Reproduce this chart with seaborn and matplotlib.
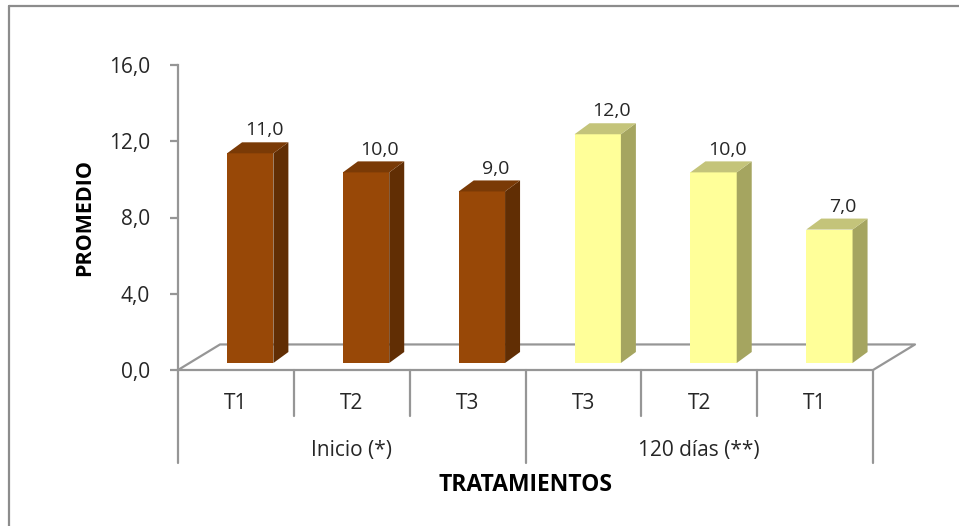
import matplotlib
matplotlib.use("Agg")
import matplotlib.pyplot as plt
import pandas as pd
import seaborn as sns
from matplotlib.patches import Polygon
from matplotlib.lines import Line2D
from matplotlib.ticker import FuncFormatter

# Datos
grupos = ["Inicio (*)", "Inicio (*)", "Inicio (*)",
          "120 días (**)", "120 días (**)", "120 días (**)"]
tratamientos = ["T1", "T2", "T3", "T3", "T2", "T1"]
promedios = [11.0, 10.0, 9.0, 12.0, 10.0, 7.0]
marcas_y = [0, 4, 8, 12, 16]
orden_grupos = ["Inicio (*)", "120 días (**)"]

color_frente = {"Inicio (*)": "#984807", "120 días (**)": "#FFFF99"}
color_lado = {"Inicio (*)": "#612E04", "120 días (**)": "#A5A560"}
color_tope = {"Inicio (*)": "#7A3A06", "120 días (**)": "#C4C47A"}
gris = "#969696"
texto = "#262626"

df = pd.DataFrame({"grupo": grupos, "tratamiento": tratamientos, "promedio": promedios})
df["clave"] = [f"{g}|{t}|{i}" for i, (g, t) in enumerate(zip(grupos, tratamientos))]

sns.set_theme(style="white")
plt.rcParams["font.family"] = ["Open Sans", "DejaVu Sans"]

fig = plt.figure(figsize=(9.59, 5.26), dpi=100)
fig.patch.set_facecolor("white")
ax = fig.add_axes([178 / 959, (526 - 370) / 526, 695 / 959, 305 / 526])

sns.barplot(data=df, x="clave", y="promedio", hue="grupo", order=list(df["clave"]),
            hue_order=orden_grupos, palette=color_frente, dodge=False, width=0.4,
            saturation=1, errorbar=None, legend=False, linewidth=0, ax=ax)

ax.set_xlim(-0.5, 5.5)
ax.set_ylim(0, 16)

# perspectiva: desplazamiento de la cara frontal y profundidad de cada barra
fx, fy = 0.1235, 0.367
dx, dy = 0.1295, 0.577
# profundidad del piso
pdx, pdy = 0.3626, 1.34

# piso (solo contorno)
piso_x = [-0.5, 5.5, 5.5 + pdx, -0.5 + pdx, -0.5]
piso_y = [0, 0, pdy, pdy, 0]
ax.plot(piso_x, piso_y, color=gris, lw=1.6, clip_on=False, zorder=1,
        solid_capstyle="butt")

for p in list(ax.patches):
    h = p.get_height()
    if not h or h != h:
        continue
    idx = int(round(p.get_x() + p.get_width() / 2))
    g = df["grupo"].iloc[idx]
    x0 = p.get_x() + fx
    w = p.get_width()
    p.set_x(x0)
    p.set_y(fy)
    p.set_zorder(3)
    y1 = fy + h
    lado = Polygon([(x0 + w, fy), (x0 + w + dx, fy + dy), (x0 + w + dx, y1 + dy), (x0 + w, y1)],
                   closed=True, facecolor=color_lado[g], edgecolor="none", zorder=3,
                   clip_on=False)
    tope = Polygon([(x0, y1), (x0 + w, y1), (x0 + w + dx, y1 + dy), (x0 + dx, y1 + dy)],
                   closed=True, facecolor=color_tope[g], edgecolor="none", zorder=3,
                   clip_on=False)
    ax.add_patch(lado)
    ax.add_patch(tope)
    ax.text(x0 + w / 2 + 0.12, y1 + dy + 0.36, f"{h:.1f}".replace(".", ","),
            ha="center", va="baseline", fontsize=14, color=texto, zorder=4)

# ejes
for s in ["top", "right", "bottom"]:
    ax.spines[s].set_visible(False)
ax.spines["left"].set_color(gris)
ax.spines["left"].set_linewidth(1.6)
ax.set_yticks(marcas_y)
ax.yaxis.set_major_formatter(FuncFormatter(lambda v, _: f"{v:.1f}".replace(".", ",")))
ax.tick_params(axis="y", direction="out", length=6, width=1.6, color=gris,
               labelsize=15, labelcolor=texto, pad=14, left=True)
ax.set_xticks([])
ax.set_xlabel("")
ax.set_ylabel("PROMEDIO", fontsize=15.5, fontweight="bold", color="black")
ax.yaxis.set_label_coords(-0.119, 0.5)

# divisiones del eje de categorías
y_corto, y_largo = -2.42, -4.88
for xb in [0.5, 1.5, 3.5, 4.5]:
    ax.plot([xb, xb], [0, y_corto], color=gris, lw=1.6, clip_on=False, zorder=1)
for xb in [-0.5, 2.5, 5.5]:
    ax.plot([xb, xb], [0, y_largo], color=gris, lw=1.6, clip_on=False, zorder=1)

for i, t in enumerate(tratamientos):
    ax.text(i, -1.75, t, ha="center", va="center", fontsize=15, color=texto, clip_on=False)
for j, g in enumerate(orden_grupos):
    ax.text(1 + 3 * j, -4.2, g, ha="center", va="center", fontsize=15, color=texto,
            clip_on=False)
ax.text(2.5, -6.05, "TRATAMIENTOS", ha="center", va="center", fontsize=16.5,
        fontweight="bold", color="black", clip_on=False)

# marco del área del gráfico
fx0, fy0 = 9 / 959, 1 - 6 / 526
fig.add_artist(Line2D([fx0, 1.0], [fy0, fy0], transform=fig.transFigure, color="#8c8c8c", lw=1.6))
fig.add_artist(Line2D([fx0, fx0], [0.0, fy0], transform=fig.transFigure, color="#8c8c8c", lw=1.6))

fig.savefig("out.png", dpi=100, facecolor="white")
